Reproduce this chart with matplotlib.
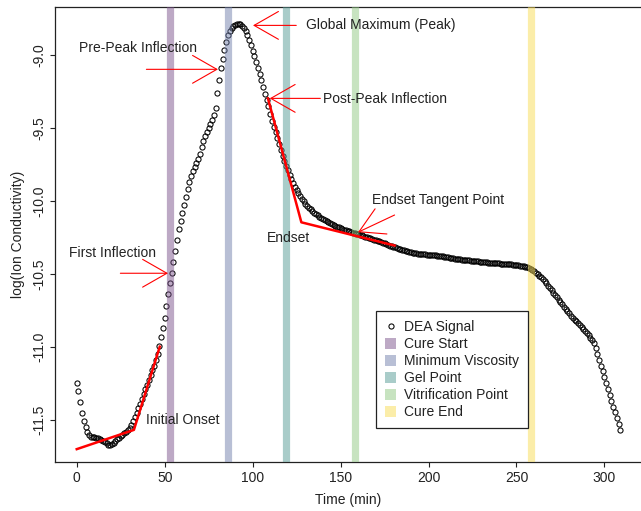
import numpy as np
import matplotlib
matplotlib.use("Agg")
import matplotlib.pyplot as plt
from matplotlib.lines import Line2D
from matplotlib.patches import Patch

plt.rcParams['font.family'] = ['Liberation Sans', 'DejaVu Sans']
plt.rcParams['font.size'] = 10

# DEA signal, log ion conductivity, one reading per minute
log_ion = [
    -11.245, -11.300, -11.375, -11.450, -11.505, -11.550, -11.585, -11.605, -11.615, -11.615,
    -11.618, -11.622, -11.626, -11.628, -11.634, -11.642, -11.650, -11.660, -11.669, -11.673,
    -11.667, -11.655, -11.643, -11.633, -11.622, -11.612, -11.602, -11.591, -11.580, -11.570,
    -11.556, -11.535, -11.510, -11.482, -11.452, -11.420, -11.388, -11.355, -11.322, -11.290,
    -11.258, -11.225, -11.192, -11.160, -11.127, -11.090, -11.050, -10.990, -10.930, -10.870,
    -10.800, -10.720, -10.640, -10.560, -10.490, -10.420, -10.340, -10.265, -10.195, -10.140,
    -10.085, -10.030, -9.975, -9.920, -9.870, -9.830, -9.795, -9.765, -9.740, -9.712,
    -9.675, -9.630, -9.590, -9.555, -9.525, -9.500, -9.475, -9.445, -9.410, -9.360,
    -9.260, -9.170, -9.090, -9.025, -8.965, -8.912, -8.866, -8.833, -8.812, -8.799,
    -8.791, -8.787, -8.786, -8.790, -8.800, -8.816, -8.838, -8.864, -8.895, -8.930,
    -8.970, -9.010, -9.050, -9.090, -9.130, -9.172, -9.220, -9.268, -9.310, -9.350,
    -9.405, -9.450, -9.490, -9.530, -9.570, -9.610, -9.650, -9.690, -9.725, -9.760,
    -9.790, -9.820, -9.850, -9.878, -9.903, -9.926, -9.948, -9.968, -9.986, -10.003,
    -10.018, -10.032, -10.045, -10.057, -10.068, -10.079, -10.089, -10.098, -10.107, -10.115,
    -10.123, -10.131, -10.138, -10.145, -10.152, -10.158, -10.164, -10.170, -10.176, -10.181,
    -10.186, -10.191, -10.196, -10.200, -10.204, -10.208, -10.212, -10.216, -10.220, -10.224,
    -10.228, -10.232, -10.236, -10.240, -10.244, -10.248, -10.252, -10.256, -10.260, -10.264,
    -10.268, -10.273, -10.277, -10.282, -10.287, -10.291, -10.296, -10.300, -10.305, -10.309,
    -10.313, -10.318, -10.322, -10.326, -10.330, -10.334, -10.337, -10.341, -10.344, -10.347,
    -10.350, -10.353, -10.355, -10.358, -10.360, -10.362, -10.364, -10.365, -10.366, -10.367,
    -10.368, -10.369, -10.370, -10.371, -10.372, -10.374, -10.376, -10.378, -10.380, -10.382,
    -10.384, -10.386, -10.388, -10.390, -10.392, -10.394, -10.396, -10.398, -10.399, -10.401,
    -10.402, -10.404, -10.405, -10.407, -10.408, -10.410, -10.411, -10.413, -10.414, -10.415,
    -10.417, -10.418, -10.419, -10.421, -10.422, -10.423, -10.424, -10.425, -10.426, -10.427,
    -10.428, -10.429, -10.430, -10.431, -10.432, -10.433, -10.434, -10.435, -10.436, -10.437,
    -10.438, -10.440, -10.442, -10.444, -10.447, -10.451, -10.455, -10.460, -10.466, -10.473,
    -10.481, -10.490, -10.500, -10.511, -10.523, -10.536, -10.550, -10.565, -10.580, -10.596,
    -10.612, -10.628, -10.644, -10.660, -10.676, -10.692, -10.708, -10.724, -10.740, -10.755,
    -10.770, -10.785, -10.799, -10.812, -10.825, -10.838, -10.851, -10.864, -10.877, -10.891,
    -10.905, -10.920, -10.937, -10.955, -10.975, -11.010, -11.048, -11.088, -11.128, -11.168,
    -11.208, -11.248, -11.288, -11.328, -11.368, -11.408, -11.448, -11.488, -11.528, -11.568,
]
time_min = np.arange(len(log_ion))

# cure events (min)
event_names = ["Cure Start", "Minimum Viscosity", "Gel Point", "Vitrification Point", "Cure End"]
event_times = [53.1, 86.1, 119.1, 158.1, 258.3]
event_colors = ["#7d558d", "#7381ad", "#559b95", "#91c983", "#f9dd55"]

# tangent constructions
onset_x = [0, 32.5, 47.2]
onset_y = [-11.70, -11.568, -10.998]
endset_x = [108.7, 127.7, 180.7]
endset_y = [-9.297, -10.146, -10.305]

# arrow annotations: label, tail, tip, text position, alignment
arrow_notes = [
    ("Pre-Peak Inflection", (39.6, -9.098), (80.3, -9.098), (34.8, -8.954), "center"),
    ("Global Maximum (Peak)", (124.8, -8.797), (100.2, -8.797), (130.1, -8.797), "left"),
    ("Post-Peak Inflection", (138.5, -9.297), (109.7, -9.297), (139.9, -9.303), "left"),
    ("First Inflection", (24.8, -10.495), (51.9, -10.495), (20.1, -10.354), "center"),
    ("Endset Tangent Point", (180.7, -10.096), (159.9, -10.214), (205.2, -9.993), "center"),
]
plain_notes = [
    ("Endset", (120.3, -10.251)),
    ("Initial Onset", (60.1, -11.502)),
]

fig = plt.figure(figsize=(6.41, 5.11), dpi=100)
ax = fig.add_axes([55 / 641, 49 / 511, 587 / 641, 455 / 511])

ax.plot(time_min, log_ion, 'o', mfc='none', mec='black', ms=3.7, mew=0.75, zorder=2)

for t, c in zip(event_times, event_colors):
    ax.axvline(t, color=c, lw=5.2, alpha=0.5, zorder=3)

ax.plot(onset_x, onset_y, color='red', lw=1.8, zorder=4)
ax.plot(endset_x, endset_y, color='red', lw=1.8, zorder=4)

for label, tail, tip, pos, ha in arrow_notes:
    ax.annotate('', xy=tip, xytext=tail,
                arrowprops=dict(arrowstyle='->,head_length=1.75,head_width=1.0',
                                mutation_scale=10, color='red', lw=0.8,
                                shrinkA=0, shrinkB=0), zorder=5)
    ax.text(pos[0], pos[1], label, ha=ha, va='center', color='#222222', zorder=5)

for label, pos in plain_notes:
    ax.text(pos[0], pos[1], label, ha='center', va='center', color='#222222', zorder=5)

ax.set_xlim(-12.36, 321.36)
ax.set_ylim(-11.788, -8.671)
ax.set_xticks([0, 50, 100, 150, 200, 250, 300])
ax.set_yticks([-11.5, -11.0, -10.5, -10.0, -9.5, -9.0])
ax.set_yticklabels(["-11.5", "-11.0", "-10.5", "-10.0", "-9.5", "-9.0"])
ax.tick_params(length=3.8, width=0.8, color='#222222', labelcolor='#222222', pad=2.5)
for lab in ax.get_yticklabels():
    lab.set_rotation(90)
    lab.set_va('center')
for sp in ax.spines.values():
    sp.set_linewidth(0.9)
    sp.set_color('#222222')

ax.set_xlabel("Time (min)", color='#222222', labelpad=6)
ax.set_ylabel("log(Ion Conductivity)", color='#222222', labelpad=5)

handles = [Line2D([], [], ls='none', marker='o', mfc='none', mec='black', ms=3.7, mew=0.75)]
handles += [Patch(facecolor=c, alpha=0.5, edgecolor='none') for c in event_colors]
leg = ax.legend(handles, ["DEA Signal"] + event_names, loc='upper right',
                bbox_to_anchor=(0.806, 0.332), borderaxespad=0, fancybox=False,
                edgecolor='#222222', framealpha=1, labelspacing=0.22,
                handlelength=0.85, handleheight=0.85, handletextpad=0.55,
                borderpad=0.65)
leg.get_frame().set_linewidth(0.9)
for t in leg.get_texts():
    t.set_color('#222222')

fig.savefig("out.png", dpi=100)
